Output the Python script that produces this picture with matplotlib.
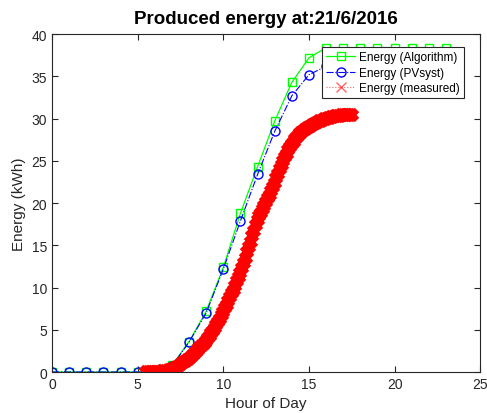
import numpy as np
import matplotlib
matplotlib.use("Agg")
import matplotlib.pyplot as plt

plt.rcParams['font.family'] = ['Liberation Sans', 'DejaVu Sans']

# hourly model outputs
hours = list(range(24))
energy_algorithm = [0, 0, 0, 0, 0, 0, 0, 0.8, 3.6, 7.2, 12.4, 18.8, 24.3, 29.7,
                    34.3, 37.2, 38.4, 38.4, 38.4, 38.4, 38.4, 38.4, 38.4, 38.4]
energy_pvsyst = [0, 0, 0, 0, 0, 0, 0, 0.7, 3.55, 7.0, 12.2, 17.9, 23.4, 28.5,
                 32.7, 35.2, 36.2, 36.2, 36.2, 36.2, 36.2, 36.2, 36.2, 36.2]

# measured energy, sampled every 6 minutes from 5:30 to 17:30
measured_hours = np.arange(55, 176) / 10.0
energy_measured = [
    0.00, 0.00, 0.00, 0.00, 0.00, 0.01, 0.02, 0.03, 0.05, 0.07,
    0.09, 0.12, 0.16, 0.20, 0.25, 0.31, 0.40, 0.51, 0.63, 0.76,
    0.90, 1.03, 1.17, 1.31, 1.45, 1.60, 1.79, 1.98, 2.18, 2.39,
    2.60, 2.82, 3.03, 3.25, 3.47, 3.70, 3.98, 4.27, 4.57, 4.88,
    5.20, 5.57, 5.94, 6.32, 6.71, 7.10, 7.53, 7.96, 8.40, 8.85,
    9.30, 9.77, 10.24, 10.72, 11.21, 11.70, 12.31, 12.93, 13.55, 14.17,
    14.80, 15.45, 16.10, 16.74, 17.38, 18.00, 18.45, 18.88, 19.30, 19.71,
    20.10, 20.55, 21.01, 21.47, 21.93, 22.40, 22.93, 23.46, 23.98, 24.50,
    25.00, 25.42, 25.83, 26.23, 26.62, 27.00, 27.28, 27.55, 27.81, 28.06,
    28.30, 28.46, 28.61, 28.75, 28.88, 29.00, 29.13, 29.25, 29.37, 29.49,
    29.60, 29.69, 29.77, 29.85, 29.93, 30.00, 30.07, 30.13, 30.19, 30.25,
    30.30, 30.32, 30.34, 30.36, 30.38, 30.40, 30.40, 30.40, 30.40, 30.40,
    30.40,
]

fig = plt.figure(figsize=(4.87, 4.14), dpi=100)
ax = fig.add_axes([0.107, 0.099, 0.879, 0.816])

ax.plot(hours, energy_algorithm, color=(0, 1, 0), marker='s', markersize=6,
        markerfacecolor='none', linewidth=0.9, label='Energy (Algorithm)')
ax.plot(hours, energy_pvsyst, color=(0, 0, 1), marker='o', markersize=6.5,
        markerfacecolor='none', linestyle='-.', linewidth=0.8,
        label='Energy (PVsyst)')
ax.plot(measured_hours, energy_measured, color=(1, 0, 0), marker='x',
        markersize=7.5, markeredgewidth=4.5, linestyle=':', linewidth=0.8,
        label='Energy (measured)')

ax.set_xlim(0, 25)
ax.set_ylim(0, 40)
ax.set_xticks(range(0, 26, 5))
ax.set_yticks(range(0, 41, 5))
ax.tick_params(direction='in', top=True, right=True, length=4, width=0.8,
               labelsize=10, colors='#262626', labelcolor='#262626')
for sp in ax.spines.values():
    sp.set_color('#262626')
    sp.set_linewidth(0.8)

ax.set_xlabel('Hour of Day', fontsize=11, color='#262626', labelpad=4)
ax.set_ylabel('Energy (kWh)', fontsize=11, color='#262626', labelpad=4)
ax.set_title('Produced energy at:21/6/2016', fontsize=13.5, fontweight='bold',
             pad=8)

leg = ax.legend(loc='upper right', bbox_to_anchor=(0.963, 0.962), fontsize=8.5,
                fancybox=False, framealpha=1, edgecolor='#262626',
                borderaxespad=0, handlelength=2.4, handletextpad=0.4,
                borderpad=0.35, labelspacing=0.3)
leg.get_frame().set_linewidth(0.8)
# thin cross in the legend, like the single marker
leg.legend_handles[2].set_markeredgewidth(1)
leg.legend_handles[2].set_alpha(0.6)

fig.savefig('out.png', dpi=100)
